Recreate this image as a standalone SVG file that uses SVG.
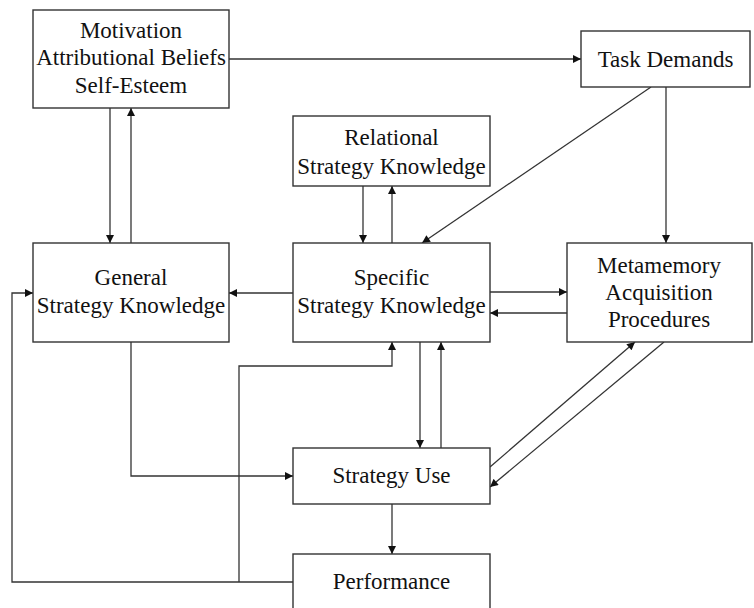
<svg xmlns="http://www.w3.org/2000/svg" width="754" height="608" viewBox="0 0 754 608">
<defs>
<style>
.box{fill:#fff;stroke:#333;stroke-width:1.4}
.t{font-family:'Liberation Serif','DejaVu Serif',serif;font-size:23px;fill:#111;text-anchor:middle}
.c{fill:none;stroke:#333;stroke-width:1.3}
</style>
<marker id="ah" viewBox="0 0 10 10" refX="10" refY="5" markerWidth="9" markerHeight="8" markerUnits="userSpaceOnUse" orient="auto">
<path d="M0,0 L10,5 L0,10 z" fill="#111"/>
</marker>
</defs>
<rect width="754" height="608" fill="#fff"/>
<g id="connectors" class="c" marker-end="url(#ah)">
<path d="M229,59 H581"/>
<path d="M110,108 V243"/>
<path d="M131,243 V108"/>
<path d="M363,186 V243"/>
<path d="M392,243 V186"/>
<path d="M651,87 L422,243"/>
<path d="M666,87 V243"/>
<path d="M293,293 H229"/>
<path d="M490,292 H567"/>
<path d="M567,313 H490"/>
<path d="M420,342 V448"/>
<path d="M441,448 V342"/>
<path d="M392,504 V554"/>
<path d="M131,342 V476 H293"/>
<path d="M293,582 H12 V293 H33"/>
<path d="M239,582 V366 H392 V342"/>
<path d="M490,467 L635,342"/>
<path d="M664,342 L490,487"/>
</g>
<g font-family="Liberation Serif, DejaVu Serif, serif">
<g id="motivation">
<rect class="box" x="33" y="10" width="196" height="98"/>
<text class="t" x="131" y="38">Motivation</text>
<text class="t" x="131" y="65">Attributional Beliefs</text>
<text class="t" x="131" y="93">Self-Esteem</text>
</g>
<g id="task-demands">
<rect class="box" x="581" y="31" width="169" height="56"/>
<text class="t" x="665.5" y="67">Task Demands</text>
</g>
<g id="relational">
<rect class="box" x="293" y="116" width="197" height="70"/>
<text class="t" x="391.5" y="145">Relational</text>
<text class="t" x="391.5" y="174">Strategy Knowledge</text>
</g>
<g id="general">
<rect class="box" x="33" y="243" width="196" height="99"/>
<text class="t" x="131" y="285">General</text>
<text class="t" x="131" y="313">Strategy Knowledge</text>
</g>
<g id="specific">
<rect class="box" x="293" y="243" width="197" height="99"/>
<text class="t" x="391.5" y="285">Specific</text>
<text class="t" x="391.5" y="313">Strategy Knowledge</text>
</g>
<g id="metamemory">
<rect class="box" x="567" y="243" width="185" height="99"/>
<text class="t" x="659" y="273">Metamemory</text>
<text class="t" x="659" y="300">Acquisition</text>
<text class="t" x="659" y="327">Procedures</text>
</g>
<g id="strategy-use">
<rect class="box" x="293" y="448" width="197" height="56"/>
<text class="t" x="391.5" y="483">Strategy Use</text>
</g>
<g id="performance">
<rect class="box" x="293" y="554" width="197" height="70"/>
<text class="t" x="391.5" y="589">Performance</text>
</g>
</g>
</svg>
